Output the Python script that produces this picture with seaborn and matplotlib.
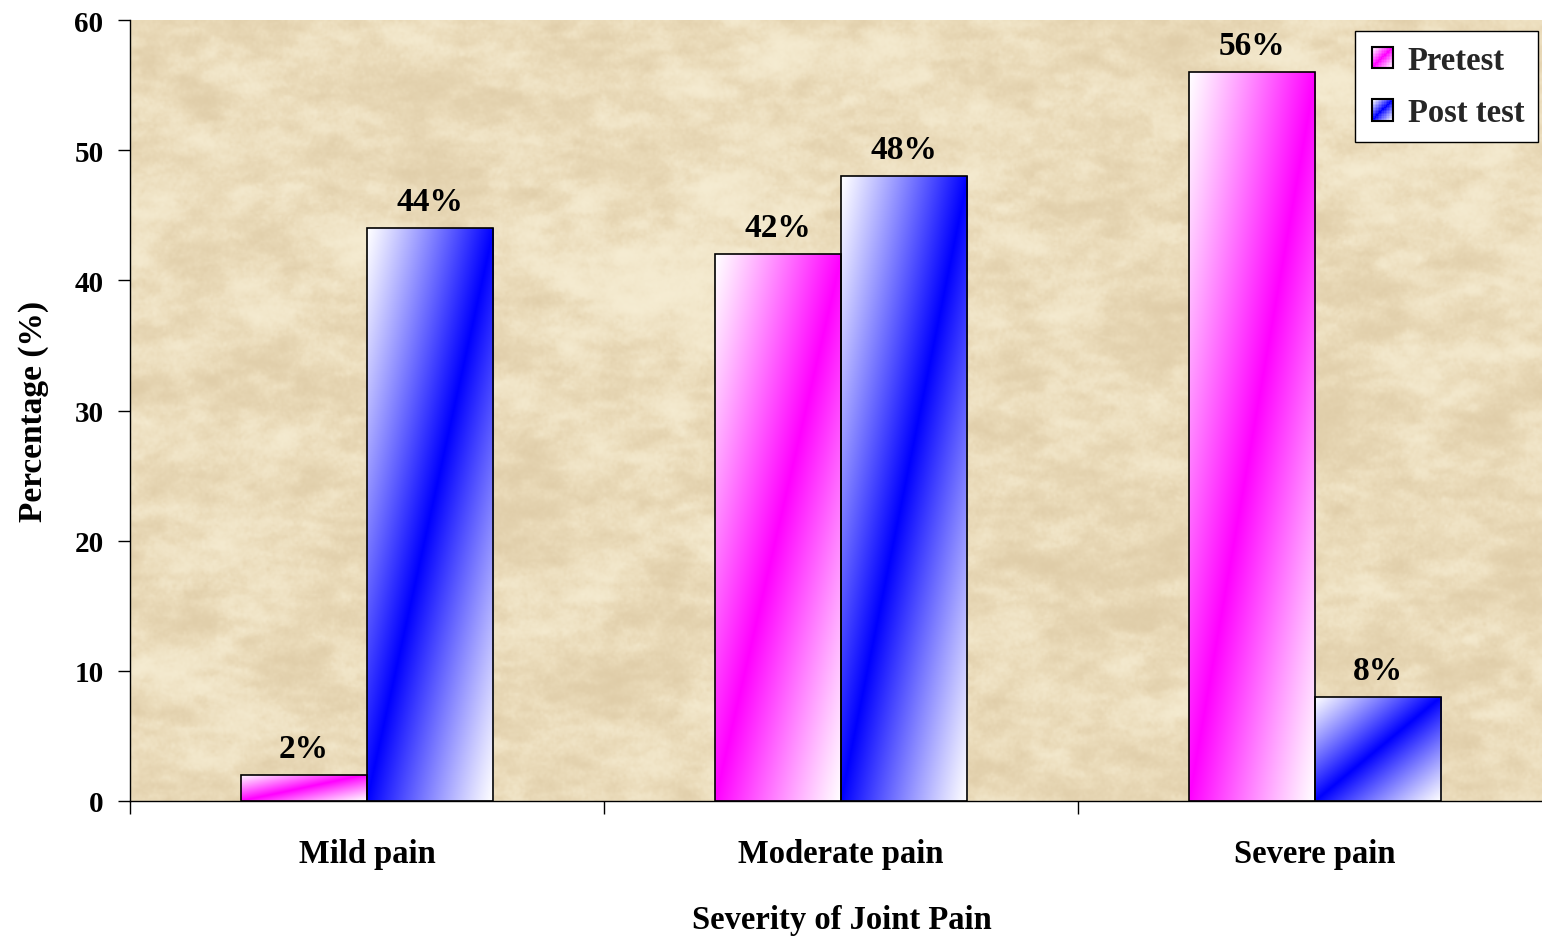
import numpy as np
import pandas as pd
import matplotlib
matplotlib.use("Agg")
import matplotlib.pyplot as plt
import seaborn as sns
from matplotlib.patches import Rectangle
from matplotlib.legend_handler import HandlerBase

# Data
categories = ["Mild pain", "Moderate pain", "Severe pain"]
groups = ["Pretest", "Post test"]
pretest = [2, 42, 56]
post_test = [44, 48, 8]
y_ticks = [0, 10, 20, 30, 40, 50, 60]

group_colors = {"Pretest": (1.0, 0.0, 1.0), "Post test": (0.0, 0.0, 1.0)}

df = pd.DataFrame({
    "Severity": categories * 2,
    "Group": [groups[0]] * len(categories) + [groups[1]] * len(categories),
    "Percentage": pretest + post_test,
})

sns.set_theme(style="white")
plt.rcParams["font.family"] = ["Liberation Serif", "DejaVu Serif"]
plt.rcParams["font.weight"] = "bold"

W_PX, H_PX = 1542, 945
fig = plt.figure(figsize=(W_PX / 100, H_PX / 100), dpi=100)
ax = fig.add_axes([130 / W_PX, 143 / H_PX, 1412 / W_PX, 781 / H_PX])

sns.barplot(data=df, x="Severity", y="Percentage", hue="Group",
            order=categories, hue_order=groups, palette=group_colors,
            width=0.533, edgecolor="black", linewidth=1.2, saturation=1,
            legend=False, ax=ax)

XMIN, XMAX = -0.5, 2.479
YMIN, YMAX = 0, 60


def diag_gradient(color, n=200):
    """White-to-colour fill, strongest along the bottom-left/top-right diagonal."""
    u = np.linspace(0, 1, n)[None, :]
    v = np.linspace(0, 1, n)[:, None]
    t = np.clip(1 - np.abs(u - v), 0, 1) ** 1.1
    c = np.array(color)[None, None, :]
    return (1 - t[..., None]) * 1.0 + t[..., None] * c


# Parchment-style backdrop for the plotting area
rng = np.random.default_rng(5)
TH, TW = 520, 940


def smooth_noise(scale, stretch=1.0):
    """Gaussian-filtered noise; stretch > 1 elongates blobs horizontally."""
    n = rng.standard_normal((TH, TW))
    ky = np.fft.fftfreq(TH)[:, None]
    kx = np.fft.fftfreq(TW)[None, :]
    g = np.exp(-((kx * stretch) ** 2 + ky ** 2) * (scale ** 2) * 2 * np.pi ** 2)
    r = np.real(np.fft.ifft2(np.fft.fft2(n) * g))
    return r / r.std()


noise = (0.30 * smooth_noise(28, 1.3) + 0.40 * smooth_noise(7, 1.8)
         + 0.30 * smooth_noise(2.2, 2.0) + 0.15 * smooth_noise(0.7))
noise = np.tanh(noise / 1.5)
base = np.array([0.920, 0.860, 0.730])
light = np.array([0.965, 0.930, 0.830])
dark = np.array([0.870, 0.795, 0.650])
tex = np.where(noise[..., None] > 0,
               base + noise[..., None] * (light - base),
               base - noise[..., None] * (dark - base))
ax.imshow(np.clip(tex, 0, 1), extent=[XMIN, XMAX, YMIN, YMAX], origin="lower",
          aspect="auto", zorder=0, interpolation="bilinear")

# Gradient fills clipped to each bar, with the bar outline on top
for grp, container in zip(groups, ax.containers):
    for patch in container.patches:
        x, y = patch.get_x(), patch.get_y()
        w, h = patch.get_width(), patch.get_height()
        img = ax.imshow(diag_gradient(group_colors[grp]),
                        extent=[x, x + w, y, y + h], origin="lower",
                        aspect="auto", zorder=2, interpolation="bilinear")
        img.set_clip_path(patch)
        patch.set_facecolor("none")
        patch.set_zorder(3)
    ax.bar_label(container, fmt="%g%%", padding=8, fontsize=24,
                 fontweight="bold", color="black", zorder=4)

ax.set_yticks(y_ticks)
ax.set_yticklabels([str(t) for t in y_ticks], fontsize=21, fontweight="bold")
ax.set_xticks(range(len(categories)))
ax.set_xticklabels(categories, fontsize=23.5, fontweight="bold")
ax.set_xticks([i - 0.5 for i in range(len(categories) + 1)], minor=True)
ax.set_xlim(XMIN, XMAX)
ax.set_ylim(YMIN, YMAX)
ax.tick_params(axis="x", which="major", length=0, pad=27, colors="black")
ax.tick_params(axis="x", which="minor", length=9, width=1, direction="out",
               bottom=True, color="black")
ax.tick_params(axis="y", length=9, width=1, direction="out", left=True,
               pad=10, colors="black")

for side in ("top", "right"):
    ax.spines[side].set_visible(False)
for side in ("left", "bottom"):
    ax.spines[side].set_color("black")
    ax.spines[side].set_linewidth(1)
    ax.spines[side].set_zorder(5)

ax.set_xlabel("Severity of Joint Pain", fontsize=23.5, fontweight="bold", color="black")
ax.set_ylabel("Percentage (%)", fontsize=24, fontweight="bold", color="black")
ax.xaxis.set_label_coords(0.504, -0.132)
ax.yaxis.set_label_coords(-0.0575, 0.5)


class GradientSquareHandler(HandlerBase):
    def __init__(self, color, steps=14):
        super().__init__()
        self.color = color
        self.steps = steps

    def create_artists(self, legend, orig_handle, xdescent, ydescent,
                       width, height, fontsize, trans):
        side = min(width, height) * 0.9
        x0 = -xdescent + width - side
        y0 = -ydescent + (height - side) / 2
        grad = diag_gradient(self.color, self.steps)
        cell = side / self.steps
        artists = []
        for i in range(self.steps):
            for j in range(self.steps):
                artists.append(Rectangle((x0 + j * cell, y0 + i * cell), cell * 1.02, cell * 1.02,
                                         facecolor=grad[i, j], edgecolor="none",
                                         transform=trans))
        artists.append(Rectangle((x0, y0), side, side, facecolor="none",
                                 edgecolor="black", linewidth=1.5, transform=trans))
        return artists


handles = [Rectangle((0, 0), 1, 1, label=g) for g in groups]
leg = ax.legend(handles=handles, labels=groups, loc="upper left",
                bbox_to_anchor=((1355 - 130) / 1412, (802 - 32) / 781),
                prop={"family": "Liberation Serif", "weight": "bold", "size": 23.5},
                frameon=True, fancybox=False, framealpha=1, edgecolor="black",
                borderpad=0.42, labelspacing=0.66, handlelength=0.75,
                handleheight=0.75, handletextpad=0.45, borderaxespad=0,
                handler_map={handles[0]: GradientSquareHandler(group_colors["Pretest"]),
                             handles[1]: GradientSquareHandler(group_colors["Post test"])})
leg.get_frame().set_linewidth(1)
leg.set_zorder(6)

fig.savefig("out.png", dpi=100, facecolor="white")
